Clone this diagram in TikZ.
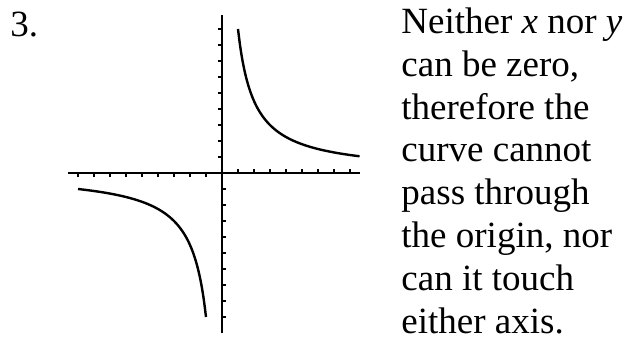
\documentclass[tikz,border=0pt]{standalone}
\usepackage{fontspec}
\setmainfont{Liberation Serif}
\usetikzlibrary{positioning}

\begin{document}
\begin{tikzpicture}[x=8pt,y=8pt,
    axis/.style={line width=1.3pt},
    curve/.style={line width=1.2pt, smooth},
    tick/.style={line width=1pt},
    txt/.style={font=\fontsize{18.5pt}{21.4pt}\selectfont, inner sep=0pt}]
    \useasboundingbox (-13.875,-10.375) rectangle (25.25,10.8125);
    % Axes
    \draw[axis] (-9.6,0) -- (8.6,0);
    \draw[axis] (0,-10) -- (0,9.9);

    % Ticks
    \foreach \k in {1,...,8}
        \draw[tick] (\k,0) -- (\k,0.25);
    \foreach \k in {1,...,9} {
        \draw[tick] (-\k,0) -- (-\k,-0.25);
        \draw[tick] (0,\k) -- (-0.25,\k);
        \draw[tick] (0,-\k) -- (0.25,-\k);
    }

    % Branches of y = 9/x
    \draw[curve] plot[domain=1:8.6, samples=60] (\x, {9/\x});
    \draw[curve] plot[domain=-9:-1, samples=60] (\x, {9/\x});

    % Labels
    \node[txt, anchor=base west] (num) at (-13.25,8.56) {3.};
    \node[txt, anchor=base west, align=left] (note) at (11.19,-10)
        {Neither \textit{x} nor \textit{y}\\can be zero,\\therefore the\\curve cannot\\pass through\\the origin, nor\\can it touch\\either axis.};
\end{tikzpicture}
\end{document}
